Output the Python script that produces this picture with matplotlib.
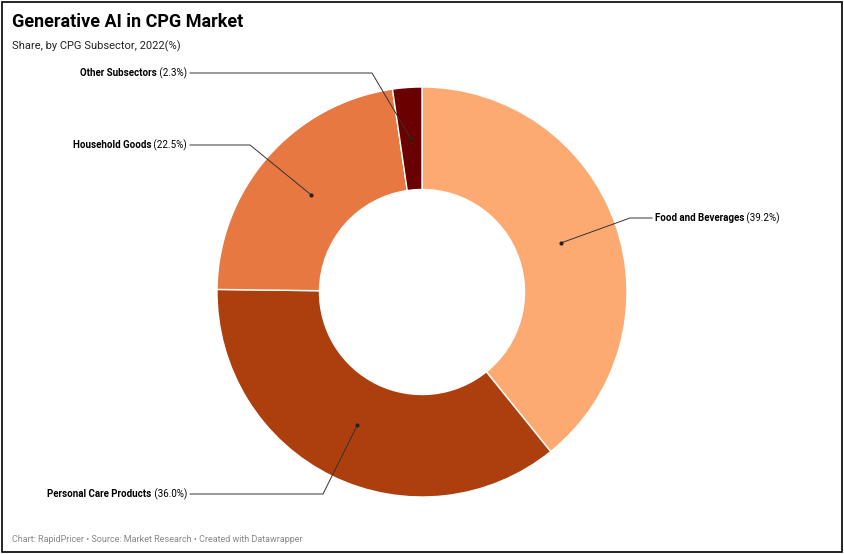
import numpy as np
import matplotlib.pyplot as plt
from matplotlib.patches import Rectangle

plt.rcParams['font.family'] = ['Roboto', 'DejaVu Sans']

labels = ['Food and Beverages', 'Personal Care Products', 'Household Goods', 'Other Subsectors']
shares = [39.2, 36.0, 22.5, 2.3]
colors = ['#fdaa72', '#ad3f0e', '#e87841', '#6b0000']

fig = plt.figure(figsize=(8.44, 5.54), dpi=100)
ax = fig.add_axes([0, 0, 1, 1])
ax.set_xlim(0, 844)
ax.set_ylim(554, 0)
ax.set_aspect('equal')
ax.axis('off')

cx, cy, R = 422, 292, 205
# y axis is inverted, so counterclock=True appears clockwise and startangle -90 is top
wedges, _ = ax.pie(shares, colors=colors, startangle=-90, counterclock=True, center=(cx, cy),
                   radius=R, wedgeprops=dict(width=R * 0.5, edgecolor='white', linewidth=1))
ax.set_xlim(0, 844)
ax.set_ylim(554, 0)

# leader elbows and text anchors (pixel positions)
elbows = [(630, 218), (323, 494), (250, 145), (372, 73)]
ends = [(652, 218), (190, 494), (190, 145), (190, 73)]
for w, lab, s, el, en in zip(wedges, labels, shares, elbows, ends):
    a = np.deg2rad((w.theta1 + w.theta2) / 2)
    r = R * 0.72 if s > 5 else R * 0.75
    px, py = cx + r * np.cos(a), cy + r * np.sin(a)
    ax.plot([px, el[0], en[0]], [py, el[1], en[1]], color='#333333', lw=0.7)
    ax.plot(px, py, 'o', color='#222222', ms=2)
    right = en[0] > cx
    ha = 'left' if right else 'right'
    xt = en[0] + (3 if right else -3)
    if right:
        t = ax.text(xt, en[1], lab, fontsize=7, fontweight='bold', ha='left', va='center')
        ax.annotate(f' ({s:.1f}%)', xycoords=t, xy=(1, 0.5), va='center', ha='left', fontsize=7)
    else:
        t = ax.text(xt, en[1], f' ({s:.1f}%)', fontsize=7, ha='right', va='center')
        ax.annotate(lab, xycoords=t, xy=(0, 0.5), va='center', ha='right', fontsize=7, fontweight='bold')

fig.text(12 / 844, 1 - 22 / 554, 'Generative AI in CPG Market', fontsize=13, fontweight='bold', va='center')
fig.text(12 / 844, 1 - 46 / 554, 'Share, by CPG Subsector, 2022(%)', fontsize=8, va='center', color='#222222')
fig.text(12 / 844, 1 - 539 / 554, 'Chart: RapidPricer • Source: Market Research • Created with Datawrapper',
         fontsize=6.5, va='center', color='#888888')
fig.patches.append(Rectangle((0.002, 0.003), 0.996, 0.994, transform=fig.transFigure,
                             fill=False, edgecolor='black', lw=1.2))

fig.savefig('out.png', dpi=100)
